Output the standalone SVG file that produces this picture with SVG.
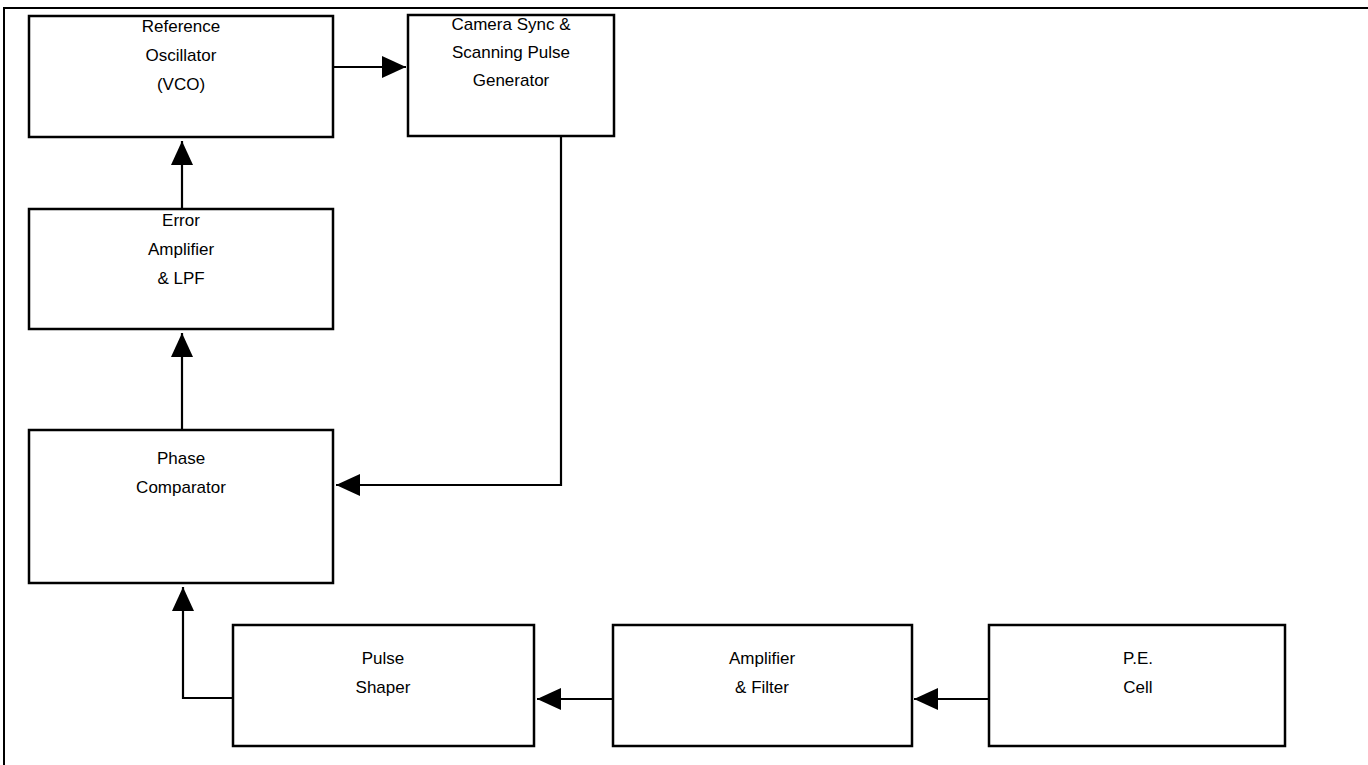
<svg xmlns="http://www.w3.org/2000/svg" width="1368" height="765" viewBox="0 0 1368 765">
  <style>
    .box { fill: #ffffff; stroke: #000000; stroke-width: 2.5; }
    .frame { fill: none; stroke: #000000; stroke-width: 2; }
    .conn { fill: none; stroke: #000000; stroke-width: 2.2; }
    .lbl { font-family: "Liberation Sans", Arial, sans-serif; font-size: 17px; fill: #000000; text-anchor: middle; }
  </style>
  <defs>
    <marker id="arr" viewBox="0 0 24 22" refX="24" refY="11" markerWidth="24" markerHeight="22" markerUnits="userSpaceOnUse" orient="auto">
      <path d="M0,0 L24,11 L0,22 z" fill="#000000"/>
    </marker>
  </defs>
  <rect width="1368" height="765" fill="#ffffff"/>
  <path class="frame" d="M4,765 L4,8 L1368,8"/>

  <g id="connectors">
    <line class="conn" x1="333" y1="67" x2="406" y2="67" marker-end="url(#arr)"/>
    <line class="conn" x1="182" y1="209" x2="182" y2="141" marker-end="url(#arr)"/>
    <line class="conn" x1="182" y1="430" x2="182" y2="333" marker-end="url(#arr)"/>
    <polyline class="conn" points="561,136 561,485 336,485" marker-end="url(#arr)"/>
    <polyline class="conn" points="233,698 183,698 183,587" marker-end="url(#arr)"/>
    <line class="conn" x1="613" y1="699" x2="537" y2="699" marker-end="url(#arr)"/>
    <line class="conn" x1="989" y1="699" x2="914" y2="699" marker-end="url(#arr)"/>
  </g>

  <g id="ref-osc">
    <rect class="box" x="29" y="16" width="304" height="121"/>
    <text class="lbl" x="181" y="32">Reference</text>
    <text class="lbl" x="181" y="61">Oscillator</text>
    <text class="lbl" x="181" y="90">(VCO)</text>
  </g>
  <g id="camera-sync">
    <rect class="box" x="408" y="15" width="206" height="121"/>
    <text class="lbl" x="511" y="30">Camera Sync &amp;</text>
    <text class="lbl" x="511" y="58">Scanning Pulse</text>
    <text class="lbl" x="511" y="86">Generator</text>
  </g>
  <g id="error-amp">
    <rect class="box" x="29" y="209" width="304" height="120"/>
    <text class="lbl" x="181" y="226">Error</text>
    <text class="lbl" x="181" y="255">Amplifier</text>
    <text class="lbl" x="181" y="284">&amp; LPF</text>
  </g>
  <g id="phase-comp">
    <rect class="box" x="29" y="430" width="304" height="153"/>
    <text class="lbl" x="181" y="464">Phase</text>
    <text class="lbl" x="181" y="493">Comparator</text>
  </g>
  <g id="pulse-shaper">
    <rect class="box" x="233" y="625" width="301" height="121"/>
    <text class="lbl" x="383" y="664">Pulse</text>
    <text class="lbl" x="383" y="693">Shaper</text>
  </g>
  <g id="amp-filter">
    <rect class="box" x="613" y="625" width="299" height="121"/>
    <text class="lbl" x="762" y="664">Amplifier</text>
    <text class="lbl" x="762" y="693">&amp; Filter</text>
  </g>
  <g id="pe-cell">
    <rect class="box" x="989" y="625" width="296" height="121"/>
    <text class="lbl" x="1138" y="664">P.E.</text>
    <text class="lbl" x="1138" y="693">Cell</text>
  </g>
</svg>
